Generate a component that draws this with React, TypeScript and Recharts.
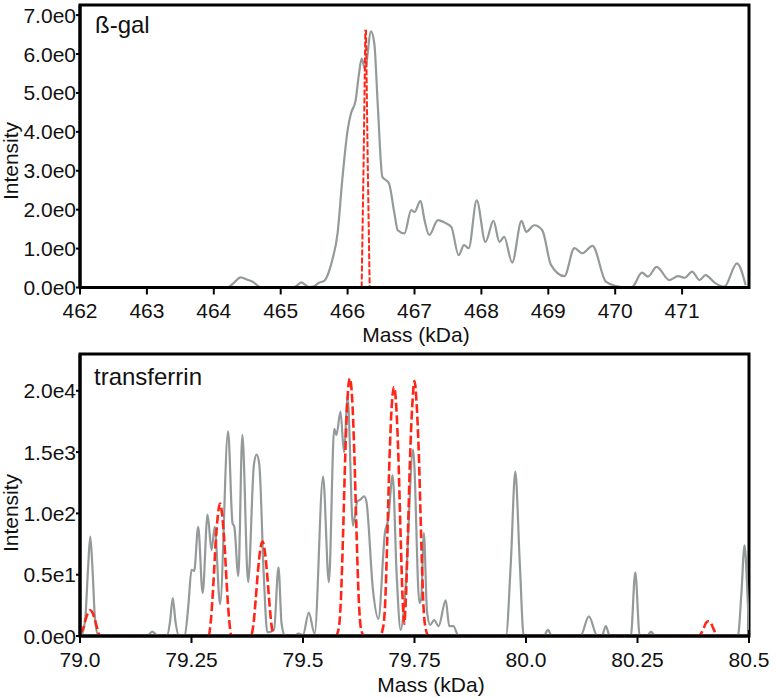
import { LineChart, Line, XAxis, YAxis, ReferenceArea } from 'recharts'

// ß-gal panel
const galMass = [
  462.0, 464.2, 464.3, 464.4, 464.5, 464.58, 464.7, 465.2, 465.31, 465.42, 465.5, 465.57, 465.65, 465.72,
  465.77, 465.85, 465.92, 466.0, 466.05, 466.12, 466.17, 466.21, 466.26, 466.35, 466.4, 466.45, 466.52,
  466.58, 466.62, 466.7, 466.75, 466.85, 466.95, 467.0, 467.09, 467.15, 467.22, 467.35, 467.47, 467.55,
  467.66, 467.74, 467.81, 467.93, 468.06, 468.18, 468.27, 468.34, 468.46, 468.6, 468.67, 468.79, 468.91,
  469.04, 469.24, 469.39, 469.51, 469.66, 469.86, 470.01, 470.2, 470.26, 470.4, 470.49, 470.62, 470.81,
  470.94, 471.04, 471.15, 471.26, 471.35, 471.49, 471.63, 471.82, 471.95,
]
const galSignal = [
  0, 0, 0.12, 0.26, 0.2, 0.15, 0.01, 0.01, 0.13, 0.01, 0.03, 0.12, 0.17, 0.4,
  0.7, 1.39, 2.76, 4.04, 4.47, 4.81, 5.49, 5.88, 5.62, 6.58, 6.26, 4.72, 2.84,
  2.75, 2.67, 1.9, 1.47, 1.39, 1.99, 1.94, 2.23, 1.73, 1.35, 1.73, 1.65, 1.56,
  0.83, 1.09, 1.01, 2.24, 1.17, 1.71, 1.17, 1.3, 0.64, 1.71, 1.43, 1.6, 1.47,
  0.58, 0.29, 1.01, 0.88, 1.07, 0.15, 0.04, 0, 0.02, 0.38, 0.28, 0.53, 0.19,
  0.29, 0.25, 0.41, 0.19, 0.32, 0.12, 0.02, 0.62, 0.06,
]
const galFitMass = [466.21, 466.24, 466.265, 466.275, 466.3, 466.33]
const galFit = [0, 3.3, 6.6, 6.6, 3.3, 0]
const galXTicks = [462, 463, 464, 465, 466, 467, 468, 469, 470, 471]
const galYTicks = [0, 1, 2, 3, 4, 5, 6, 7]
const galYLabels = ['0.0e0', '1.0e0', '2.0e0', '3.0e0', '4.0e0', '5.0e0', '6.0e0', '7.0e0']

// transferrin panel
const tfMass = [
  79.0, 79.005, 79.012, 79.018, 79.023, 79.028, 79.034, 79.042, 79.15, 79.162, 79.175, 79.195, 79.202,
  79.208, 79.214, 79.222, 79.235, 79.243, 79.25, 79.256, 79.265, 79.275, 79.286, 79.295, 79.302, 79.314,
  79.332, 79.342, 79.346, 79.355, 79.364, 79.377, 79.39, 79.396, 79.402, 79.412, 79.42, 79.435, 79.445,
  79.452, 79.46, 79.48, 79.49, 79.5, 79.513, 79.526, 79.545, 79.558, 79.57, 79.575, 79.584, 79.592,
  79.6, 79.612, 79.622, 79.628, 79.637, 79.642, 79.657, 79.669, 79.684, 79.691, 79.701, 79.71, 79.719,
  79.73, 79.747, 79.761, 79.765, 79.771, 79.778, 79.785, 79.794, 79.804, 79.82, 79.828, 79.837, 79.849,
  79.955, 79.966, 79.976, 79.986, 79.995, 80.04, 80.049, 80.058, 80.122, 80.141, 80.16, 80.17, 80.179,
  80.188, 80.235, 80.245, 80.255, 80.272, 80.28, 80.29, 80.475, 80.483, 80.49, 80.497, 80.5,
]
const tfSignal = [
  0, 0.02, 0.15, 0.55, 0.81, 0.55, 0.12, 0, 0, 0.035, 0, 0, 0.12,
  0.31, 0.12, 0, 0.01, 0.25, 0.54, 0.53, 0.89, 0.35, 0.99, 0.7, 0.89, 0.26,
  1.67, 0.92, 0.89, 0.49, 1.64, 0.44, 1.4, 1.48, 1.4, 0.5, 0.03, 0.05, 0.56,
  0.1, 0, 0, 0.02, 0.01, 0.19, 0.02, 1.3, 0.44, 1.69, 1.64, 1.83, 1.5,
  1.95, 0.9, 1.1, 1.11, 1.14, 1.1, 0.37, 0.14, 0.85, 0.95, 1.31, 0.5, 0.05,
  0.4, 1.52, 0.27, 0.3, 0.84, 0.2, 0.09, 0.13, 0.08, 0.29, 0.08, 0.08, 0,
  0, 0.6, 1.34, 0.6, 0, 0, 0.05, 0, 0, 0.16, 0, 0, 0.08,
  0, 0, 0.52, 0, 0, 0.035, 0, 0, 0.35, 0.74, 0.3, 0.05,
]
const tfFitMass = [
  79.0, 79.008, 79.013, 79.018, 79.023, 79.028, 79.033, 79.038, 79.045,
  79.288, 79.294, 79.299, 79.304, 79.309, 79.314, 79.319, 79.324, 79.329, 79.334, 79.340,
  79.383, 79.389, 79.394, 79.399, 79.404, 79.409, 79.414, 79.419, 79.424, 79.429, 79.435,
  79.573, 79.580, 79.585, 79.590, 79.595, 79.600, 79.605, 79.610, 79.615, 79.620, 79.625, 79.630, 79.637,
  79.672, 79.679, 79.684, 79.689, 79.694, 79.699, 79.704, 79.709, 79.714, 79.719, 79.724, 79.727,
  79.730, 79.735, 79.740, 79.745, 79.750, 79.755, 79.760, 79.765, 79.770, 79.775, 79.782,
  80.387, 80.394, 80.399, 80.404, 80.409, 80.414, 80.419, 80.424, 80.431, 80.5,
]
const tfFit = [
  0.02, 0.07, 0.14, 0.19, 0.21, 0.19, 0.14, 0.07, 0,
  0, 0.15, 0.42, 0.75, 0.98, 1.08, 0.98, 0.75, 0.42, 0.15, 0,
  0, 0.1, 0.3, 0.53, 0.7, 0.77, 0.7, 0.53, 0.3, 0.1, 0,
  0, 0.06, 0.3, 0.85, 1.5, 1.95, 2.1, 1.95, 1.5, 0.85, 0.3, 0.06, 0,
  0, 0.06, 0.25, 0.8, 1.45, 1.88, 2.03, 1.88, 1.45, 0.8, 0.25, 0.1,
  0.25, 0.8, 1.45, 1.88, 2.08, 1.88, 1.45, 0.8, 0.25, 0.06, 0,
  0, 0.03, 0.07, 0.11, 0.12, 0.11, 0.07, 0.03, 0, 0,
]
const tfXTicks = [79.0, 79.25, 79.5, 79.75, 80.0, 80.25, 80.5]
const tfXLabels = ['79.0', '79.25', '79.5', '79.75', '80.0', '80.25', '80.5']
const tfYTicks = [0, 0.5, 1, 1.5, 2]
const tfYLabels = ['0.0e0', '0.5e1', '1.0e2', '1.5e3', '2.0e4']

const FONT = '"Liberation Sans", Arial, sans-serif'
const GRAY = '#939a99'
const RED = '#ff2617'

const zip = (xs: number[], ys: number[]) => xs.map((m, i) => ({ m, v: ys[i] }))

function makeXTick(ticks: number[], labels: string[]) {
  return (props: any) => {
    const i = ticks.indexOf(props.payload.value)
    return (
      <text x={props.x} y={props.y + 23.5} textAnchor="middle" fontSize={21} fontFamily={FONT} fill="#111">
        {labels[i] ?? ''}
      </text>
    )
  }
}

function makeYTick(ticks: number[], labels: string[]) {
  return (props: any) => {
    const i = ticks.indexOf(props.payload.value)
    return (
      <text x={props.x} y={props.y + 7.5} textAnchor="end" fontSize={21} fontFamily={FONT} fill="#111">
        {labels[i] ?? ''}
      </text>
    )
  }
}

interface PanelProps {
  height: number
  marginTop: number
  axisHeight: number
  xDomain: [number, number]
  yDomain: [number, number]
  xTicks: number[]
  xLabels: string[]
  yTicks: number[]
  yLabels: string[]
  signal: { m: number; v: number }[]
  fit: { m: number; v: number }[]
  fitDash: string
  fitWidth: number
  fitType: 'linear' | 'monotone'
}

function Panel(p: PanelProps) {
  return (
    <LineChart width={776} height={p.height} margin={{ top: p.marginTop, right: 27, left: 0, bottom: 0 }}>
      <ReferenceArea
        x1={p.xDomain[0]}
        x2={p.xDomain[1]}
        y1={p.yDomain[0]}
        y2={p.yDomain[1]}
        fill="none"
        fillOpacity={0}
        stroke="#000"
        strokeWidth={3}
        ifOverflow="visible"
      />
      <XAxis
        dataKey="m"
        type="number"
        domain={p.xDomain}
        ticks={p.xTicks}
        allowDataOverflow
        height={p.axisHeight}
        tickSize={7}
        tickMargin={0}
        axisLine={{ stroke: '#000', strokeWidth: 3 }}
        tickLine={{ stroke: '#000', strokeWidth: 2 }}
        tick={makeXTick(p.xTicks, p.xLabels)}
      />
      <YAxis
        type="number"
        domain={p.yDomain}
        ticks={p.yTicks}
        allowDataOverflow
        width={80}
        tickSize={4}
        tickMargin={0}
        axisLine={{ stroke: '#000', strokeWidth: 3 }}
        tickLine={{ stroke: '#000', strokeWidth: 2 }}
        tick={makeYTick(p.yTicks, p.yLabels)}
      />
      <Line
        data={p.signal}
        dataKey="v"
        type="monotone"
        stroke={GRAY}
        strokeWidth={2.2}
        dot={false}
        activeDot={false}
        isAnimationActive={false}
      />
      <Line
        data={p.fit}
        dataKey="v"
        type={p.fitType}
        stroke={RED}
        strokeWidth={p.fitWidth}
        strokeDasharray={p.fitDash}
        dot={false}
        activeDot={false}
        isAnimationActive={false}
      />
    </LineChart>
  )
}

export default function App() {
  return (
    <div style={{ position: 'absolute', left: 0, top: 0, width: 776, height: 698, background: '#fff' }}>
      <div style={{ position: 'absolute', left: 0, top: 0 }}>
        <Panel
          height={345}
          marginTop={5}
          axisHeight={57.5}
          xDomain={[462, 472]}
          yDomain={[0, 7.26]}
          xTicks={galXTicks}
          xLabels={galXTicks.map(String)}
          yTicks={galYTicks}
          yLabels={galYLabels}
          signal={zip(galMass, galSignal)}
          fit={zip(galFitMass, galFit)}
          fitDash="6 2"
          fitWidth={2}
          fitType="linear"
        />
      </div>
      <div style={{ position: 'absolute', left: 0, top: 345 }}>
        <Panel
          height={353}
          marginTop={9}
          axisHeight={62}
          xDomain={[79.0, 80.5]}
          yDomain={[0, 2.3]}
          xTicks={tfXTicks}
          xLabels={tfXLabels}
          yTicks={tfYTicks}
          yLabels={tfYLabels}
          signal={zip(tfMass, tfSignal)}
          fit={zip(tfFitMass, tfFit)}
          fitDash="9 3.5"
          fitWidth={2.6}
          fitType="monotone"
        />
      </div>
      <svg
        width={776}
        height={698}
        style={{ position: 'absolute', left: 0, top: 0, pointerEvents: 'none' }}
        fontFamily={FONT}
        fill="#111"
      >
        <text x={95} y={33} fontSize={24}>ß-gal</text>
        <text x={94} y={385} fontSize={24}>transferrin</text>
        <text x={416} y={342} fontSize={21} textAnchor="middle">Mass (kDa)</text>
        <text x={431} y={692} fontSize={21} textAnchor="middle">Mass (kDa)</text>
        <text transform="translate(18,161) rotate(-90)" fontSize={21} textAnchor="middle">Intensity</text>
        <text transform="translate(18,513) rotate(-90)" fontSize={21} textAnchor="middle">Intensity</text>
      </svg>
    </div>
  )
}
